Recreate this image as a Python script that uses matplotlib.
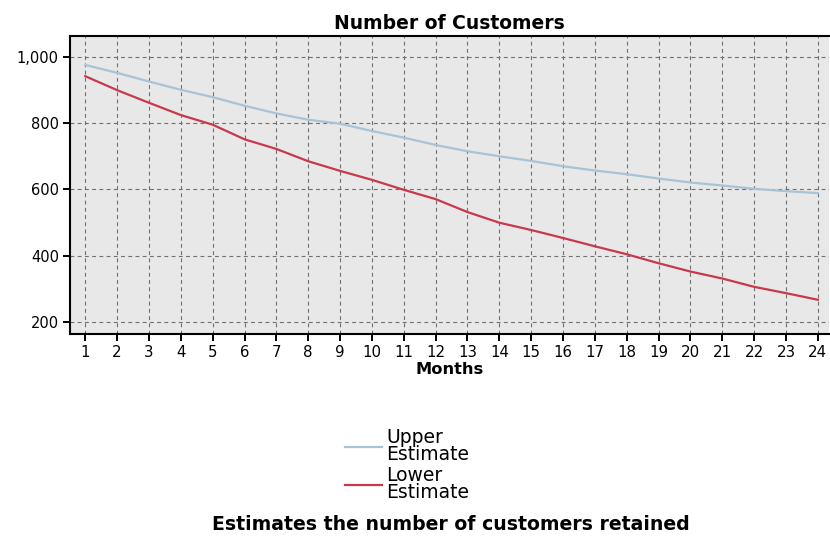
import matplotlib.pyplot as plt
from matplotlib.ticker import FuncFormatter

months = list(range(1, 25))
upper = [975, 951, 925, 900, 878, 852, 829, 810, 798, 776, 756, 734,
         715, 700, 686, 670, 657, 646, 633, 621, 612, 602, 595, 589]
lower = [941, 899, 861, 824, 795, 751, 722, 685, 656, 629, 599, 571,
         532, 500, 478, 454, 429, 405, 378, 353, 332, 307, 288, 268]
series_labels = ["Upper\nEstimate", "Lower\nEstimate"]
y_ticks = [200, 400, 600, 800, 1000]

fig = plt.figure(figsize=(8.3, 5.43), dpi=100)
ax = fig.add_axes([70 / 830, 1 - 334 / 543, 759 / 830, 298 / 543])
ax.set_facecolor('#e8e8e8')

ax.plot(months, upper, color='#a8c3d6', lw=1.6, label=series_labels[0])
ax.plot(months, lower, color='#c9384c', lw=1.6, label=series_labels[1])

ax.set_xlim(0.52, 24.35)
ax.set_ylim(165, 1062)
ax.set_xticks(months)
ax.set_yticks(y_ticks)
ax.yaxis.set_major_formatter(FuncFormatter(lambda v, p: f"{int(v):,}"))
ax.tick_params(direction='out', length=5, width=1.4, colors='black',
               labelsize=10.8, pad=3)
ax.tick_params(axis='y', labelsize=10.5)
ax.grid(True, color='#707070', linestyle=(0, (3.5, 3)), lw=0.8)
ax.set_axisbelow(True)
for s in ['left', 'bottom', 'top']:
    ax.spines[s].set_linewidth(1.5)
ax.spines['right'].set_visible(False)

ax.set_title("Number of Customers", fontsize=13.5, fontweight='bold', pad=5)
ax.set_xlabel("Months", fontsize=11.7, fontweight='bold', labelpad=1)

leg = fig.legend(loc='center', bbox_to_anchor=(407 / 830, 1 - 465 / 543),
                 frameon=False, fontsize=13.5, handlelength=2.0,
                 handletextpad=0.2, labelspacing=0.1)
for t in leg.get_texts():
    t.set_linespacing(0.85)

fig.text(451 / 830, 1 - 524 / 543, "Estimates the number of customers retained",
         ha='center', va='center', fontsize=13.6, fontweight='bold')

fig.savefig('out.png', dpi=100)
